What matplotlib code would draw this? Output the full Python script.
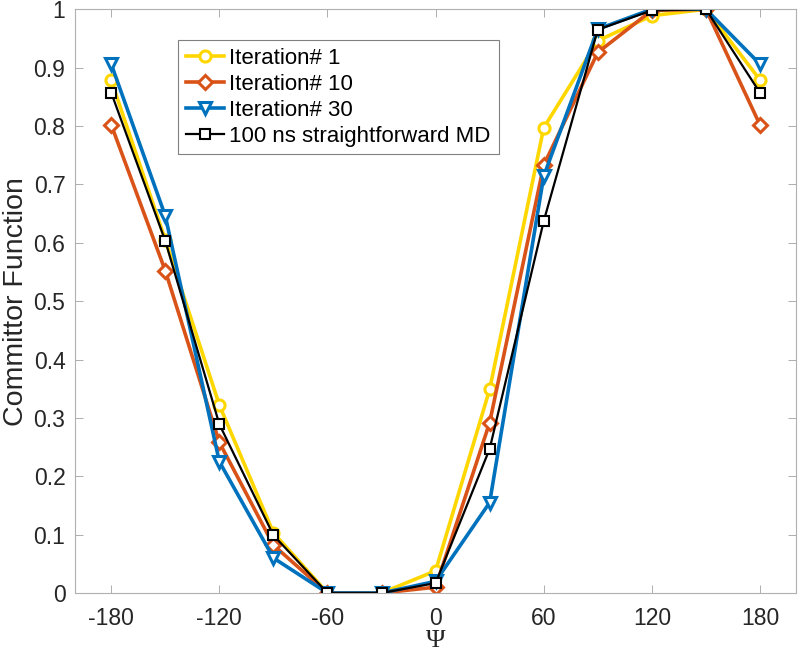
import numpy as np
import matplotlib
matplotlib.use("Agg")
import matplotlib.pyplot as plt

# committor function vs psi angle
psi = [-180, -150, -120, -90, -60, -30, 0, 30, 60, 90, 120, 150, 180]

iter1 = [0.878, 0.605, 0.322, 0.103, 0.0, 0.0, 0.038, 0.349, 0.797, 0.946, 0.989, 1.0, 0.879]
iter10 = [0.802, 0.552, 0.258, 0.082, 0.0, 0.0, 0.010, 0.292, 0.733, 0.926, 0.998, 1.0, 0.802]
iter30 = [0.906, 0.646, 0.225, 0.060, 0.0, 0.0, 0.020, 0.155, 0.714, 0.966, 1.0, 1.0, 0.906]
md100 = [0.857, 0.603, 0.289, 0.099, 0.0, 0.0, 0.017, 0.247, 0.637, 0.965, 0.998, 1.0, 0.857]

labels = ["Iteration# 1", "Iteration# 10", "Iteration# 30", "100 ns straightforward MD"]

plt.rcParams['font.family'] = ['Liberation Sans', 'DejaVu Sans']
plt.rcParams['axes.unicode_minus'] = False

fig = plt.figure(figsize=(8, 6.6), dpi=100)
ax = fig.add_axes([0.094, 0.1015, 0.901, 0.8845])

ax.plot(psi, iter1, '-o', color='#FFD700', lw=2.6, ms=8, mfc='white', mew=2.2, label=labels[0])
ax.plot(psi, iter10, '-D', color='#D95319', lw=2.6, ms=7, mfc='white', mew=2.2, label=labels[1])
ax.plot(psi, iter30, '-v', color='#0072BD', lw=2.6, ms=9, mfc='white', mew=2.2, label=labels[2])
ax.plot(psi, md100, '-s', color='black', lw=1.6, ms=7, mfc='white', mew=1.5, label=labels[3])

ax.set_xlim(-200, 200)
ax.set_ylim(0, 1)
ax.set_xticks(np.arange(-180, 181, 60))
ax.set_yticks(np.arange(0, 1.01, 0.1))
ax.set_yticklabels(['0', '0.1', '0.2', '0.3', '0.4', '0.5', '0.6', '0.7', '0.8', '0.9', '1'])
ax.tick_params(direction='in', top=True, right=True, labelsize=16.5,
               length=6, width=0.6, colors='#a0a0a0', labelcolor='#262626')
ax.tick_params(axis='x', pad=10)
ax.tick_params(axis='y', pad=7)
for s in ax.spines.values():
    s.set_color('#b0b0b0')
    s.set_linewidth(0.8)

ax.set_ylabel('Committor Function', fontsize=20.5, color='#262626', va='center')
ax.yaxis.set_label_coords(-0.082, 0.5)
ax.set_xlabel('Ψ', fontsize=19, family=['Liberation Serif', 'DejaVu Serif'],
              color='#262626', labelpad=0)

leg = ax.legend(loc='upper left', bbox_to_anchor=(0.143, 0.947), fontsize=16,
                fancybox=False, framealpha=1, edgecolor='#808080',
                borderpad=0.35, labelspacing=0.22, handlelength=1.7, handletextpad=0.25,
                borderaxespad=0)
leg.get_frame().set_linewidth(0.8)

fig.savefig('out.png', dpi=100)
